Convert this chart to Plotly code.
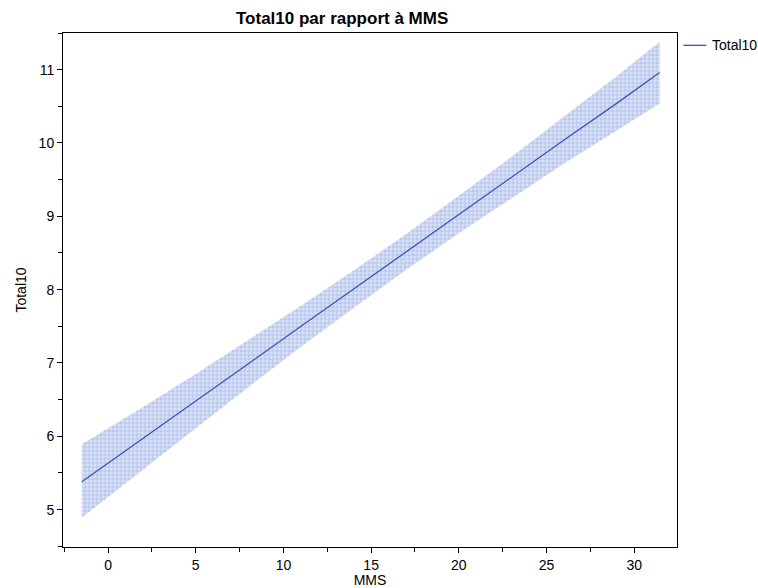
import plotly.graph_objects as go

# Data
mms = [-1.5, 2, 5, 8, 11, 14, 17, 20, 23, 26, 29, 31.45]
total10_fit = [5.38, 5.97, 6.48, 6.99, 7.50, 8.01, 8.51, 9.02, 9.53, 10.04, 10.54, 10.96]
total10_upper = [5.89, 6.40, 6.85, 7.31, 7.78, 8.26, 8.76, 9.28, 9.81, 10.36, 10.91, 11.38]
total10_lower = [4.89, 5.54, 6.11, 6.67, 7.22, 7.75, 8.27, 8.77, 9.25, 9.72, 10.17, 10.54]

x_ticks = [0, 5, 10, 15, 20, 25, 30]
y_ticks = [5, 6, 7, 8, 9, 10, 11]
series_name = "Total10"

font = "Liberation Sans, Arial, sans-serif"
line_color = "#3a57b0"

fig = go.Figure()
fig.add_trace(go.Scatter(
    x=mms, y=total10_lower, mode="lines", line=dict(width=0),
    showlegend=False, hoverinfo="skip"))
fig.add_trace(go.Scatter(
    x=mms, y=total10_upper, mode="lines", line=dict(width=0),
    fill="tonexty", fillcolor="rgba(210,220,244,0.9)",
    fillpattern=dict(shape="+", fgcolor="rgba(75,105,200,0.75)",
                     bgcolor="rgba(214,222,245,0.95)", size=4, solidity=0.28),
    showlegend=False, hoverinfo="skip"))
fig.add_trace(go.Scatter(
    x=mms, y=total10_fit, mode="lines", name=series_name,
    line=dict(color=line_color, width=1.3), showlegend=False))

# legend drawn in the right margin (line sample + label)
fig.add_shape(type="line", xref="paper", yref="paper",
              x0=1.0103, x1=1.0477, y0=0.976, y1=0.976,
              line=dict(color=line_color, width=1.3))
fig.add_annotation(text=series_name, xref="paper", yref="paper",
                   x=1.0545, y=0.976, xanchor="left", yanchor="middle",
                   showarrow=False, font=dict(family=font, size=14, color="black"))

fig.update_layout(
    width=758, height=588,
    margin=dict(l=63, r=81, t=33, b=41),
    paper_bgcolor="white", plot_bgcolor="white",
    font=dict(family=font, size=14, color="black"),
    title=dict(text="<b>Total10 par rapport à MMS</b>", x=0.4546, xref="paper",
               xanchor="center", y=0.969, yanchor="middle",
               font=dict(family=font, size=17, color="black")),
    showlegend=False,
    xaxis=dict(range=[-2.57, 32.44], tickvals=x_ticks, ticks="outside", ticklen=5,
               tickcolor="black", showline=True, linecolor="black", linewidth=1,
               mirror=True, showgrid=False, zeroline=False, automargin=False,
               title=dict(text="MMS", standoff=2, font=dict(size=14)),
               tickfont=dict(size=14),
               minor=dict(dtick=2.5, tick0=0, ticks="outside", ticklen=4, tickcolor="black")),
    yaxis=dict(range=[4.49, 11.5], tickvals=y_ticks, ticks="outside", ticklen=5,
               tickcolor="black", showline=True, linecolor="black", linewidth=1,
               mirror=True, showgrid=False, zeroline=False, automargin=False,
               title=dict(text="Total10", standoff=8, font=dict(size=14)),
               tickfont=dict(size=14),
               minor=dict(dtick=0.5, tick0=0, ticks="outside", ticklen=4, tickcolor="black")),
)

fig.write_html(
    "out.html",
    config={"displayModeBar": False},
    post_script="document.body.style.margin='0';document.body.style.overflow='hidden';",
)
